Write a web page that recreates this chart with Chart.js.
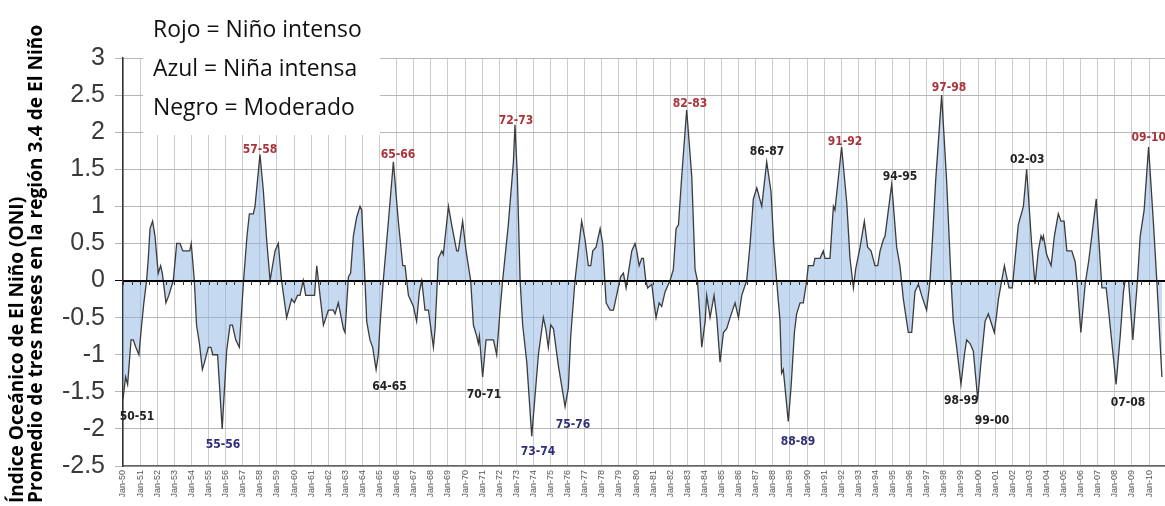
<!DOCTYPE html>
<html>
<head>
<meta charset="utf-8">
<script src="https://cdn.jsdelivr.net/npm/chart.js@4"></script>
<style>
  html, body { margin: 0; padding: 0; background: #fff; }
  canvas { display: block; }
</style>
</head>
<body>
<canvas id="oniChart" width="1165" height="506"></canvas>
<script>
// ONI, media movil de 3 meses
const anios = [
  1950.00, 1950.15, 1950.27, 1950.47, 1950.60, 1950.75, 1950.93, 1951.09, 1951.22, 1951.38,
  1951.48, 1951.58, 1951.73, 1951.87, 1952.06, 1952.20, 1952.30, 1952.51, 1952.68, 1952.94,
  1953.14, 1953.33, 1953.50, 1953.90, 1953.99, 1954.17, 1954.30, 1954.47, 1954.64, 1954.77,
  1954.99, 1955.14, 1955.25, 1955.53, 1955.80, 1956.06, 1956.26, 1956.40, 1956.59, 1956.80,
  1957.05, 1957.25, 1957.39, 1957.62, 1957.72, 1958.01, 1958.21, 1958.40, 1958.60, 1958.89,
  1959.08, 1959.27, 1959.57, 1959.86, 1960.02, 1960.20, 1960.35, 1960.54, 1960.68, 1961.20,
  1961.33, 1961.52, 1961.72, 1961.87, 1962.01, 1962.30, 1962.40, 1962.59, 1962.89, 1962.98,
  1963.18, 1963.31, 1963.47, 1963.66, 1963.86, 1963.96, 1964.15, 1964.25, 1964.44, 1964.60,
  1964.80, 1964.93, 1965.03, 1965.22, 1965.52, 1965.81, 1966.10, 1966.36, 1966.49, 1966.69,
  1966.98, 1967.17, 1967.33, 1967.47, 1967.66, 1967.86, 1968.15, 1968.25, 1968.44, 1968.64,
  1968.73, 1969.03, 1969.22, 1969.51, 1969.61, 1969.86, 1970.06, 1970.33, 1970.49, 1970.68,
  1970.78, 1970.84, 1971.03, 1971.23, 1971.66, 1971.85, 1972.05, 1972.20, 1972.53, 1972.83,
  1972.92,
  1973.06, 1973.22, 1973.37, 1973.61, 1973.90, 1974.06, 1974.29, 1974.58, 1974.72, 1974.87,
  1975.01, 1975.17, 1975.46, 1975.85, 1976.04, 1976.18, 1976.43, 1976.82, 1977.02, 1977.21,
  1977.35, 1977.47, 1977.66, 1977.90, 1978.05, 1978.25, 1978.48, 1978.68, 1978.91, 1979.10,
  1979.26, 1979.42, 1979.55, 1979.75, 1979.94, 1980.04, 1980.18, 1980.33, 1980.43, 1980.57,
  1980.68, 1980.92, 1981.05, 1981.17, 1981.35, 1981.50, 1981.70, 1981.99, 1982.18, 1982.34,
  1982.48, 1982.67, 1982.96, 1983.26, 1983.45, 1983.59, 1983.74, 1983.84, 1984.04, 1984.13,
  1984.33, 1984.56, 1984.72, 1984.91, 1985.11, 1985.30, 1985.50, 1985.79, 1985.99, 1986.18,
  1986.47, 1986.67, 1986.86, 1987.06, 1987.35, 1987.64, 1987.89, 1988.05, 1988.22,
  1988.42, 1988.51, 1988.61, 1988.90, 1989.06, 1989.26, 1989.39, 1989.59, 1989.78, 1989.98,
  1990.07, 1990.37, 1990.46, 1990.76, 1990.95, 1991.05, 1991.34, 1991.44, 1991.54, 1991.63,
  1992.02, 1992.32, 1992.51, 1992.71, 1992.84, 1993.10, 1993.35, 1993.54, 1993.74, 1993.97,
  1994.13, 1994.27, 1994.46, 1994.56, 1994.95, 1995.24, 1995.43, 1995.63, 1995.92, 1996.12,
  1996.31, 1996.51, 1996.70, 1996.99, 1997.19, 1997.38, 1997.52, 1997.87, 1998.16, 1998.42,
  1998.55, 1998.75, 1999.00, 1999.20, 1999.33, 1999.53, 1999.72, 1999.98, 2000.17, 2000.41,
  2000.60, 2000.95, 2001.09, 2001.19, 2001.42, 2001.54, 2001.67, 2001.81, 2002.00, 2002.35,
  2002.65, 2002.84, 2003.13, 2003.33, 2003.52, 2003.68, 2003.76, 2003.82, 2004.01, 2004.27,
  2004.46, 2004.69, 2004.85, 2005.03, 2005.19, 2005.48, 2005.68, 2005.78, 2006.01, 2006.26,
  2006.46, 2006.65, 2006.91, 2007.24, 2007.49, 2007.63, 2008.07, 2008.31, 2008.50, 2008.60,
  2008.80, 2009.05, 2009.32, 2009.48, 2009.71, 2009.97, 2010.26, 2010.45, 2010.75
];

const oni = [
  -1.6, -1.3, -1.4, -0.8, -0.8, -0.9, -1.0, -0.6, -0.3, 0.0,
  0.3, 0.7, 0.8, 0.6, 0.1, 0.2, 0.1, -0.3, -0.2, 0.0,
  0.5, 0.5, 0.4, 0.4, 0.5, 0.0, -0.6, -0.85, -1.2, -1.1,
  -0.9, -0.9, -1.0, -1.0, -2.0, -0.95, -0.6, -0.6, -0.8, -0.9,
  0.0, 0.6, 0.9, 0.9, 1.0, 1.7, 1.2, 0.55, 0.0, 0.4,
  0.5, 0.0, -0.5, -0.25, -0.3, -0.2, -0.2, 0.0, -0.2, -0.2,
  0.2, -0.2, -0.6, -0.5, -0.4, -0.4, -0.45, -0.3, -0.65, -0.7,
  0.05, 0.1, 0.6, 0.85, 1.0, 0.95, 0.0, -0.55, -0.8, -0.9,
  -1.2, -1.0, -0.6, 0.0, 0.8, 1.6, 0.8, 0.2, 0.2, -0.2,
  -0.35, -0.55, -0.15, 0.0, -0.4, -0.4, -0.9, -0.65, 0.3, 0.4,
  0.35, 1.0, 0.75, 0.4, 0.4, 0.8, 0.4, 0.0, -0.6, -0.75,
  -0.85, -0.75, -1.3, -0.8, -0.8, -1.0, -0.4, 0.0, 0.75, 1.6,
  2.1,
  1.4, 0.0, -0.6, -1.1, -2.1, -1.65, -1.0, -0.5, -0.65, -0.9,
  -0.6, -0.65, -1.15, -1.7, -1.45, -0.75, 0.0, 0.8, 0.55, 0.2,
  0.2, 0.4, 0.45, 0.7, 0.5, -0.3, -0.4, -0.4, -0.15, 0.05,
  0.1, -0.1, 0.1, 0.4, 0.5, 0.4, 0.2, 0.3, 0.3, 0.0,
  -0.1, -0.05, -0.3, -0.5, -0.3, -0.35, -0.15, 0.0, 0.15, 0.7,
  0.75, 1.4, 2.3, 1.4, 0.15, 0.0, -0.5, -0.9, -0.55, -0.2,
  -0.5, -0.2, -0.5, -1.1, -0.7, -0.65, -0.5, -0.3, -0.5, -0.2,
  0.0, 0.5, 1.1, 1.25, 1.0, 1.6, 1.2, 0.5, 0.0,
  -0.55, -1.25, -1.2, -1.9, -1.45, -0.7, -0.45, -0.3, -0.3, 0.0,
  0.2, 0.2, 0.3, 0.3, 0.4, 0.3, 0.3, 0.65, 1.0, 0.95,
  1.8, 1.05, 0.3, -0.1, 0.15, 0.45, 0.8, 0.45, 0.4, 0.2,
  0.2, 0.4, 0.55, 0.6, 1.3, 0.45, 0.2, -0.25, -0.7, -0.7,
  -0.15, -0.05, -0.2, -0.4, 0.0, 0.75, 1.35, 2.5, 1.35, 0.0,
  -0.55, -0.9, -1.4, -1.0, -0.8, -0.85, -0.95, -1.6, -1.1, -0.55,
  -0.45, -0.7, -0.45, -0.25, 0.05, 0.2, 0.05, -0.1, -0.1, 0.75,
  1.0, 1.5, 0.5, -0.05, 0.4, 0.6, 0.55, 0.6, 0.35, 0.2,
  0.6, 0.9, 0.8, 0.8, 0.4, 0.4, 0.25, 0.0, -0.7, -0.05,
  0.25, 0.6, 1.1, -0.1, -0.1, -0.4, -1.4, -0.75, -0.15, 0.0,
  0.0, -0.8, 0.0, 0.6, 0.95, 1.8, 0.75, 0.0, -1.3
];

if (anios.length !== oni.length) {
  throw new Error("anios/oni length mismatch: " + anios.length + " vs " + oni.length);
}

// eventos marcados en el grafico
const eventos      = ["50-51", "55-56", "57-58", "64-65", "65-66", "70-71", "72-73", "73-74", "75-76", "82-83",
                      "86-87", "88-89", "91-92", "94-95", "97-98", "98-99", "99-00", "02-03", "07-08", "09-10"];
const eventoAnio   = [1950.82, 1955.85, 1958.01, 1965.58, 1966.08, 1971.11, 1972.98, 1974.27, 1976.32, 1983.16,
                      1987.66, 1989.47, 1992.22, 1995.44, 1998.30, 1999.01, 2000.82, 2002.87, 2008.77, 2009.98];
const eventoValor  = [-1.84, -2.22, 1.76, -1.43, 1.69, -1.54, 2.15, -2.31, -1.95, 2.38,
                      1.73, -2.17, 1.87, 1.40, 2.60, -1.62, -1.89, 1.63, -1.65, 1.92];
const eventoTipo   = ["moderado", "nina", "nino", "moderado", "nino", "moderado", "nino", "nina", "nina", "nino",
                      "moderado", "nina", "nino", "moderado", "nino", "moderado", "moderado", "moderado", "moderado", "nino"];

const leyenda = ["Rojo = Niño intenso", "Azul = Niña intensa", "Negro = Moderado"];
const tituloY = ["Índice Oceánico de El Niño (ONI)", "Promedio de tres meses en la región 3.4 de El Niño"];

const colorTipo = { nino: "#a9343a", nina: "#2f2f78", moderado: "#222222" };

const puntos = anios.map(function (a, i) { return { x: a, y: oni[i] }; });

// zero line with small ticks, event labels
const extras = {
  id: "extras",
  afterDatasetsDraw: function (chart) {
    const ctx = chart.ctx, xs = chart.scales.x, ys = chart.scales.y, area = chart.chartArea;
    const y0 = Math.round(ys.getPixelForValue(0));
    ctx.save();
    ctx.strokeStyle = "#000";
    ctx.lineWidth = 2;
    ctx.beginPath();
    ctx.moveTo(area.left, y0);
    ctx.lineTo(area.right, y0);
    ctx.stroke();
    ctx.lineWidth = 1;
    ctx.strokeStyle = "#333";
    ctx.beginPath();
    for (let a = 1950; a <= xs.max; a += 0.5) {
      const px = Math.round(xs.getPixelForValue(a)) + 0.5;
      ctx.moveTo(px, y0);
      ctx.lineTo(px, y0 + 4);
    }
    ctx.stroke();

    ctx.font = 'bold 12px "DejaVu Sans Condensed", "Liberation Sans Narrow", sans-serif';
    ctx.textAlign = "center";
    ctx.textBaseline = "middle";
    eventos.forEach(function (txt, i) {
      ctx.fillStyle = colorTipo[eventoTipo[i]];
      ctx.fillText(txt, xs.getPixelForValue(eventoAnio[i]), ys.getPixelForValue(eventoValor[i]));
    });
    ctx.restore();
  },
  afterDraw: function (chart) {
    const ctx = chart.ctx;
    ctx.save();
    // legend box
    ctx.fillStyle = "#fff";
    ctx.fillRect(143, 0, 237, 135);
    ctx.fillStyle = "#111";
    ctx.textAlign = "left";
    ctx.textBaseline = "middle";
    ctx.font = '20px "Open Sans", sans-serif';
    const w0 = ctx.measureText(leyenda[0]).width;
    const fs = 20 * 209 / w0;
    ctx.font = fs.toFixed(1) + 'px "Open Sans", sans-serif';
    leyenda.forEach(function (t, i) {
      ctx.fillText(t, 153, 30 + i * 39);
    });

    // y axis title, two rotated lines
    ctx.font = 'bold 15px "Open Sans", sans-serif';
    const w1 = ctx.measureText(tituloY[1]).width;
    const ft = 15 * 478 / w1;
    ctx.font = 'bold ' + ft.toFixed(1) + 'px "Open Sans", sans-serif';
    ctx.fillStyle = "#000";
    [18, 37].forEach(function (cx, i) {
      ctx.save();
      ctx.translate(cx, 503);
      ctx.rotate(-Math.PI / 2);
      ctx.fillText(tituloY[i], 0, 0);
      ctx.restore();
    });
    ctx.restore();
  }
};

new Chart(document.getElementById("oniChart"), {
  type: "line",
  data: {
    datasets: [{
      data: puntos,
      borderColor: "#3c3c3c",
      borderWidth: 1.3,
      backgroundColor: "rgba(140,180,225,0.5)",
      fill: "origin",
      pointRadius: 0,
      tension: 0
    }]
  },
  options: {
    responsive: false,
    animation: false,
    devicePixelRatio: 1,
    layout: { padding: { top: 58, right: 0, left: 0, bottom: 0 } },
    plugins: { legend: { display: false }, tooltip: { enabled: false } },
    scales: {
      x: {
        type: "linear",
        min: 1950,
        max: 2010.93,
        afterBuildTicks: function (scale) {
          const t = [];
          for (let a = 1950; a <= 2010; a++) t.push({ value: a });
          scale.ticks = t;
        },
        afterFit: function (scale) { scale.height = 40; },
        ticks: {
          autoSkip: false,
          minRotation: 90,
          maxRotation: 90,
          padding: 4,
          color: "#555",
          font: { family: "Liberation Sans", size: 9 },
          callback: function (v) { return "Jan-" + String(v % 100).padStart(2, "0"); }
        },
        grid: { color: "#cccccc", lineWidth: 1, tickLength: 0 },
        border: { color: "#666", width: 1.5 }
      },
      y: {
        min: -2.5,
        max: 3,
        afterFit: function (scale) { scale.width = 123; },
        ticks: {
          stepSize: 0.5,
          padding: 10,
          color: "#3a3a3a",
          font: { family: '"Liberation Sans Narrow", "Liberation Sans"', size: 25 },
          callback: function (v) { return String(Math.round(v * 10) / 10); }
        },
        grid: {
          color: function (c) { return c.tick && c.tick.value === 0 ? "#000" : "#b5b5b5"; },
          tickLength: 8
        },
        border: { color: "#333", width: 1.5 }
      }
    }
  },
  plugins: [extras]
});
</script>
</body>
</html>
